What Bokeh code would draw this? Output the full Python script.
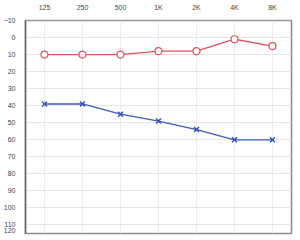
from bokeh.plotting import figure
from bokeh.models import Range1d, FixedTicker
from bokeh.embed import file_html
from bokeh.resources import INLINE

freqs = ["125", "250", "500", "1K", "2K", "4K", "8K"]
right_ear = [10, 10, 10, 8, 8, 1, 5]
left_ear = [39, 39, 45, 49, 54, 60, 60]
y_ticks = [-10, 0, 10, 20, 30, 40, 50, 60, 70, 80, 90, 100, 110]

p = figure(width=300, height=240, x_range=freqs, y_range=Range1d(115, -10),
           x_axis_location="above", output_backend="svg", toolbar_location=None,
           min_border_left=21, min_border_top=19, min_border_right=9, min_border_bottom=7)

p.background_fill_color = "white"
p.border_fill_color = "white"
p.outline_line_color = "#8a8a8a"
p.outline_line_width = 1.5

p.yaxis.ticker = FixedTicker(ticks=y_ticks + [113.5])
p.yaxis.major_label_overrides = {113.5: "120"}
for ax in (p.xaxis, p.yaxis):
    ax.axis_line_color = "#666666"
    ax.axis_line_width = 1.5
    ax.major_tick_line_color = None
    ax.minor_tick_line_color = None
    ax.major_label_text_font = "Liberation Sans"
    ax.major_label_text_font_size = "7px"
    ax.major_label_text_color = "#444444"
    ax.major_label_standoff = 4
p.xaxis.axis_line_color = "#9a9a9a"
p.xaxis.axis_line_width = 1

p.xgrid.grid_line_color = "#ececec"
p.ygrid.grid_line_color = "#e4e4e4"
p.ygrid.ticker = FixedTicker(ticks=y_ticks)

p.line(freqs, right_ear, line_color="#e0525e", line_width=1.3)
p.scatter(freqs, right_ear, marker="circle", size=7, fill_color="white",
          line_color="#e0525e", line_width=1.2)

p.line(freqs, left_ear, line_color="#3b5cc4", line_width=1.3)
p.scatter(freqs, left_ear, marker="x", size=7, line_color="#2e4fb8", line_width=1.4)

open("out.html", "w").write(file_html(p, INLINE))
